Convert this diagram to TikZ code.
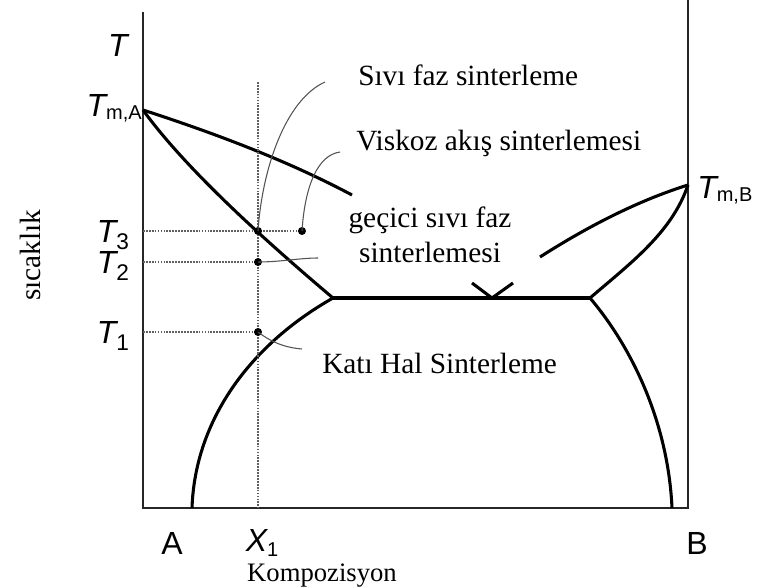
\documentclass[tikz,border=0pt]{standalone}
\usepackage{fontspec}
\setmainfont{Liberation Serif}
\newfontfamily\axfont{Liberation Sans}
\usetikzlibrary{positioning}

\begin{document}
\begin{tikzpicture}[x=0.75pt,y=-0.75pt,
    curve/.style={line width=2.3pt},
    axis/.style={line width=1.7pt, black!85},
    guide/.style={gray!75!black, line width=1.3pt, dash pattern=on 1.3pt off 0.9pt},
    leader/.style={gray!65!black, line width=0.8pt},
    lbl/.style={inner sep=0pt, font=\fontsize{22}{26}\selectfont},
    axlbl/.style={inner sep=0pt, font=\axfont\fontsize{24}{26}\selectfont}]
  \useasboundingbox (0,0) rectangle (763,588);

  % Osie
  \coordinate (Otop) at (143,12);
  \coordinate (O) at (143,508);
  \coordinate (E) at (688,508);
  \coordinate (Etop) at (688,0);
  \draw[axis] (Otop) -- (O) -- (E) -- (Etop);

  % Punkty charakterystyczne
  \coordinate (TmA) at (143,110);
  \coordinate (TmB) at (688,185);
  \coordinate (EL) at (333,298);
  \coordinate (ER) at (590,298);
  \coordinate (LqA) at (352,195);
  \coordinate (LqB) at (540,257);
  \coordinate (SA) at (192,508);
  \coordinate (SB) at (672,508);

  % Krzywe fazowe
  \draw[curve] (TmA) .. controls (220,135) and (290,162) .. (LqA);
  \draw[curve] (TmA) .. controls (185,168) and (262,238) .. (EL);
  \draw[curve] (EL) -- (ER);
  \draw[curve] (EL) .. controls (250,345) and (195,420) .. (SA);
  \draw[curve] (ER) .. controls (630,345) and (668,420) .. (SB);
  \draw[curve] (ER) .. controls (632,262) and (672,232) .. (TmB);
  \draw[curve] (TmB) .. controls (640,200) and (590,225) .. (LqB);
  \coordinate (V1) at (472,283);
  \coordinate (V0) at (492,298);
  \coordinate (V2) at (513,283);
  \draw[curve] (V1) -- (V0) -- (V2);

  % Linie pomocnicze
  \coordinate (X1top) at (258,82);
  \coordinate (X1) at (258,508);
  \coordinate (T3a) at (143,231);
  \coordinate (T2a) at (143,262);
  \coordinate (T1a) at (143,332);
  \coordinate (P3) at (258,231);
  \coordinate (Q3) at (302,231);
  \coordinate (P2) at (258,262);
  \coordinate (P1) at (258,332);
  \draw[guide] (X1top) -- (X1);
  \draw[guide] (T3a) -- (Q3);
  \draw[guide] (T2a) -- (P2);
  \draw[guide] (T1a) -- (P1);
  \foreach \p in {P3,Q3,P2,P1}
    \fill (\p) circle (3pt);

  % Etykiety
  \node[lbl, anchor=west] (sivi) at (358,75) {Sıvı faz sinterleme};
  \node[lbl, anchor=west] (visk) at (356,143) {Viskoz akış sinterlemesi};
  \node[lbl, align=center] (gecici) at (430,235) {geçici sıvı faz\\sinterlemesi};
  \node[lbl, anchor=west] (kati) at (322,363) {Katı Hal Sinterleme};
  \node[lbl, font=\fontsize{20}{24}\selectfont] (komp) at (322,576) {Kompozisyon};
  \node[lbl, rotate=90] (sic) at (30,255) {sıcaklık};

  % Linie odniesienia
  \coordinate (L1) at (325,82);
  \coordinate (L2) at (340,152);
  \coordinate (L3) at (318,258);
  \coordinate (L4) at (302,349);
  \draw[leader] (P3) .. controls (262,170) and (285,100) .. (L1);
  \draw[leader] (Q3) .. controls (305,185) and (318,155) .. (L2);
  \draw[leader] (P2) .. controls (280,262) and (300,258) .. (L3);
  \draw[leader] (P1) .. controls (275,345) and (290,348) .. (L4);

  % Oznaczenia osi
  \node[axlbl] (T) at (118,45) {\itshape T};
  \node[axlbl, anchor=east] (TA) at (142,108) {{\itshape T}\raisebox{-0.2ex}{\fontsize{15}{15}\selectfont m,A}};
  \node[axlbl, anchor=west] (TB) at (697,190) {{\itshape T}\raisebox{-0.2ex}{\fontsize{15}{15}\selectfont m,B}};
  \node[axlbl] (T3) at (113,235) {{\itshape T}\raisebox{-0.45ex}{\fontsize{17}{17}\selectfont 3}};
  \node[axlbl] (T2) at (113,266) {{\itshape T}\raisebox{-0.45ex}{\fontsize{17}{17}\selectfont 2}};
  \node[axlbl] (T1) at (113,336) {{\itshape T}\raisebox{-0.45ex}{\fontsize{17}{17}\selectfont 1}};
  \node[axlbl] (A) at (172,543) {A};
  \node[axlbl] (X) at (262,543) {{\itshape X}\raisebox{-0.3ex}{\fontsize{15}{15}\selectfont 1}};
  \node[axlbl] (B) at (697,543) {B};
\end{tikzpicture}
\end{document}
